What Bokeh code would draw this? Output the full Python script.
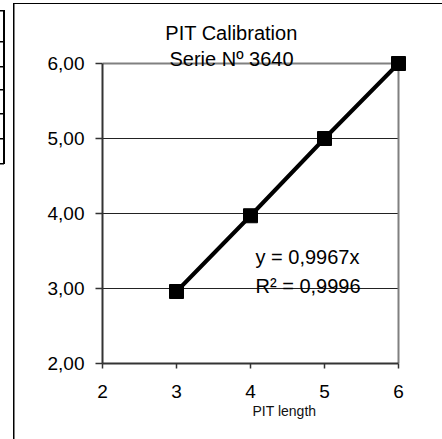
from bokeh.plotting import figure
from bokeh.models import Label, FixedTicker, Range1d, Title
from bokeh.embed import file_html
from bokeh.resources import INLINE

# ---- data ----
pit_length = [3, 4, 5, 6]
measured = [2.96, 3.97, 5.00, 6.00]
x_ticks = [2, 3, 4, 5, 6]
y_ticks = [2, 3, 4, 5, 6]
y_tick_labels = ["2,00", "3,00", "4,00", "5,00", "6,00"]
grid_ticks = [3, 4, 5]
title_lines = ["PIT Calibration", "Serie Nº 3640"]
equation_lines = ["y = 0,9967x", "R² = 0,9996"]
x_label = "PIT length"

FONT = "Liberation Sans"

# plot-area position in page pixels (value 2 -> left/bottom, 6 -> right/top)
FL, FR, FT, FB = 102, 398, 63, 363
W, H = 442, 439
PX_X = (FR - FL) / 4.0   # pixels per x unit
PX_Y = (FB - FT) / 4.0   # pixels per y unit
X0, X1 = x_ticks[0], x_ticks[-1]
Y0, Y1 = y_ticks[0], y_ticks[-1]
TXT_SHIFT = 5            # label baseline correction (px)


def dx(px):
    return X0 + (px - FL) / PX_X


def dy(py):
    return Y0 + (FB - py) / PX_Y


# the frame reaches the top and right page edges so that nothing is clipped;
# the axes are bounded to the 2..6 plot area
p = figure(width=W, height=H, output_backend="svg", toolbar_location=None,
           x_range=Range1d(X0, dx(W)), y_range=Range1d(Y0, dy(0)),
           min_border_left=FL, min_border_right=0,
           min_border_top=0, min_border_bottom=H - FB)
p.background_fill_color = None
p.border_fill_color = None
p.outline_line_color = None

# decorative frame of the chart area and the edge of a neighbouring table (CSS)
_rects = [  # left, top, width, height (px)
    (13, 3, 1.5, 436), (13, 3, 429, 1.2),
    (2.5, 10, 2, 154),
] + [(0, ty, 4, 1.5) for ty in (10, 41, 66, 89, 113, 138, 163)]
p.styles = {
    "background-color": "white",
    "background-image": ", ".join(["linear-gradient(#000, #000)"] * len(_rects)),
    "background-position": ", ".join(f"{r[0]}px {r[1]}px" for r in _rects),
    "background-size": ", ".join(f"{r[2]}px {r[3]}px" for r in _rects),
    "background-repeat": "no-repeat",
}

# axes
for ax in (p.xaxis[0], p.yaxis[0]):
    ax.axis_line_color = "#333333"
    ax.axis_line_width = 2
    ax.major_tick_line_color = "#333333"
    ax.major_tick_line_width = 1.5
    ax.major_tick_in = 0
    ax.minor_tick_line_color = None
    ax.major_label_text_font = FONT
    ax.major_label_text_font_size = "19px"
    ax.major_label_text_color = "black"

p.xaxis.ticker = FixedTicker(ticks=x_ticks)
p.yaxis.ticker = FixedTicker(ticks=y_ticks)
p.xaxis.bounds = (X0, X1)
p.yaxis.bounds = (Y0, Y1)
p.xaxis.major_tick_out = 5
p.yaxis.major_tick_out = 7
p.xaxis.major_label_standoff = 16
p.yaxis.major_label_standoff = 11
p.yaxis.major_label_overrides = {t: l for t, l in zip(y_ticks, y_tick_labels)}

p.xgrid.visible = False
p.ygrid.visible = False

# gridlines and the grey plot-area border (top and right)
p.segment(x0=X0, x1=X1, y0=grid_ticks, y1=grid_ticks, line_color="#222222", line_width=1)
p.segment(x0=[X0, X1], y0=[Y1, Y0], x1=[X1, X1], y1=[Y1, Y1],
          line_color="#808080", line_width=2)

# series
p.line(pit_length, measured, line_width=4, line_color="black")
p.scatter(pit_length, measured, marker="square", size=14,
          fill_color="black", line_color="black")

# chart title
for txt, base in zip(title_lines, (37, 63)):
    p.add_layout(Label(x=dx(231), y=dy(base - TXT_SHIFT), text=txt, text_align="center",
                       text_baseline="alphabetic", text_font=FONT, text_font_size="20px",
                       text_color="black"))

# regression text
for txt, base in zip(equation_lines, (261, 290)):
    p.add_layout(Label(x=dx(255), y=dy(base - TXT_SHIFT), text=txt, text_align="left",
                       text_baseline="alphabetic", text_font=FONT, text_font_size="20px",
                       text_color="black"))

# x-axis caption
p.add_layout(Title(text=x_label, align="left", offset=150,
                   text_font=FONT, text_font_size="14px", text_font_style="normal",
                   text_color="#111111", standoff=0), "below")

open("out.html", "w").write(file_html(p, INLINE))
